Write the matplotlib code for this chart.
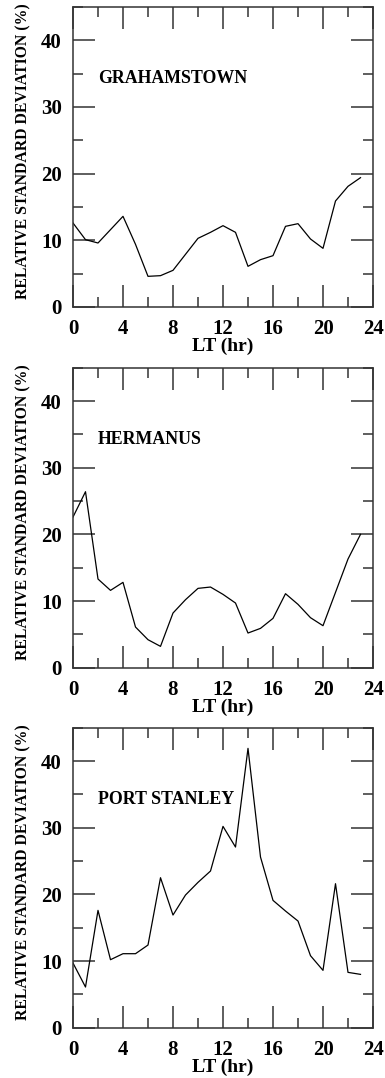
import numpy as np
import matplotlib
matplotlib.use("Agg")
import matplotlib.pyplot as plt
from matplotlib.ticker import MultipleLocator

hours = list(range(24))

grahamstown = [12.6, 10.1, 9.6, 11.6, 13.6, 9.4, 4.6, 4.7, 5.5, 7.9, 10.3, 11.2,
               12.2, 11.2, 6.1, 7.1, 7.7, 12.1, 12.5, 10.2, 8.8, 15.9, 18.1, 19.4]
hermanus = [22.6, 26.4, 13.3, 11.6, 12.8, 6.1, 4.2, 3.2, 8.2, 10.2, 11.9, 12.1,
            11.0, 9.7, 5.2, 5.9, 7.4, 11.1, 9.5, 7.5, 6.3, 11.3, 16.3, 20.0]
port_stanley = [9.7, 6.1, 17.6, 10.2, 11.1, 11.1, 12.4, 22.5, 16.9, 19.9, 21.8, 23.5,
                30.2, 27.1, 41.9, 25.6, 19.1, 17.5, 16.0, 10.8, 8.6, 21.6, 8.3, 8.0]

stations = ["GRAHAMSTOWN", "HERMANUS", "PORT STANLEY"]
series = [grahamstown, hermanus, port_stanley]

x_ticks = [0, 4, 8, 12, 16, 20, 24]
y_ticks = [0, 10, 20, 30, 40]

plt.rcParams["font.family"] = ["Liberation Serif", "DejaVu Serif"]
plt.rcParams["font.weight"] = "bold"

W, H = 385, 1078
fig = plt.figure(figsize=(W / 100, H / 100), dpi=100)

left = 73 / W
width = 300 / W
height = 300 / H
bottoms = [(H - 307) / H, (H - 667.7) / H, (H - 1027.7) / H]

spine_col = "#333333"

for name, vals, b in zip(stations, series, bottoms):
    ax = fig.add_axes([left, b, width, height])
    ax.plot(hours, vals, color="black", lw=0.9)
    ax.set_xlim(0, 24)
    ax.set_ylim(0, 45)
    ax.set_xticks(x_ticks)
    ax.set_yticks(y_ticks)
    ax.xaxis.set_minor_locator(MultipleLocator(2))
    ax.yaxis.set_minor_locator(MultipleLocator(5))
    ax.tick_params(which="both", direction="in", top=True, right=True,
                   color=spine_col, width=1.1)
    ax.tick_params(which="major", length=15.5, labelsize=15)
    ax.tick_params(which="minor", length=7.5)
    ax.tick_params(axis="x", which="major", pad=9)
    ax.tick_params(axis="y", which="major", pad=8)
    for lab in ax.get_xticklabels() + ax.get_yticklabels():
        lab.set_fontweight("bold")
    for sp in ax.spines.values():
        sp.set_color(spine_col)
        sp.set_linewidth(1.1)
    ax.set_xlabel("LT (hr)", fontsize=14, fontweight="bold", labelpad=-1)
    ax.set_ylabel("RELATIVE STANDARD DEVIATION (%)", fontsize=11.3,
                  fontweight="bold")
    ax.yaxis.set_label_coords(-0.138, 0.52)
    ax.text(2, 34.3, name, fontsize=12.9, fontweight="bold", va="center", ha="left")

fig.savefig("out.png", dpi=100)
